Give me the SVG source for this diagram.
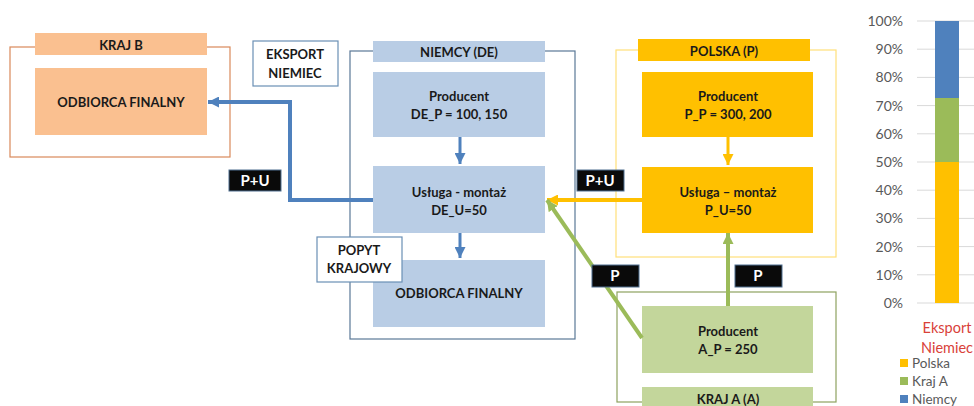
<svg xmlns="http://www.w3.org/2000/svg" width="974" height="406" viewBox="0 0 974 406">
  <style>
    text { font-family: Lato, "Liberation Sans", Arial, sans-serif; }
    .t { font-size: 13px; font-weight: bold; fill: #1a1a1a; text-anchor: middle; }
    .tag { font-size: 15px; font-weight: bold; fill: #ffffff; text-anchor: middle; }
    .tagbox { fill: #0a0a0a; stroke: #4f6f8f; stroke-width: 1; }
    .note { fill: #ffffff; stroke: #6a8fb5; stroke-width: 1.2; }
    .blue { fill: #b9cde5; }
    .orange { fill: #fac090; }
    .yellow { fill: #ffc000; }
    .green { fill: #c3d69b; }
    .ax { font-size: 14px; fill: #595959; text-anchor: end; }
    .leg { font-size: 13.5px; fill: #595959; }
    .grid { stroke: #d9d9d9; stroke-width: 1; }
  </style>
  <defs>
    <marker id="ah-blue" viewBox="0 0 10 10" refX="10" refY="5" markerWidth="11" markerHeight="11" markerUnits="userSpaceOnUse" orient="auto">
      <path d="M0,0 L10,5 L0,10 z" fill="#4f81bd"/>
    </marker>
    <marker id="ah-yellow" viewBox="0 0 10 10" refX="10" refY="5" markerWidth="11" markerHeight="11" markerUnits="userSpaceOnUse" orient="auto">
      <path d="M0,0 L10,5 L0,10 z" fill="#ffc000"/>
    </marker>
    <marker id="ah-green" viewBox="0 0 10 10" refX="10" refY="5" markerWidth="11" markerHeight="11" markerUnits="userSpaceOnUse" orient="auto">
      <path d="M0,0 L10,5 L0,10 z" fill="#9bbb59"/>
    </marker>
  </defs>

  <!-- Country B -->
  <g id="kraj-b">
    <rect x="10" y="47" width="220" height="110" fill="#ffffff" stroke="#d9895a" stroke-width="1.2"/>
    <rect class="orange" x="35" y="33" width="172" height="22"/>
    <text class="t" x="121" y="50">KRAJ B</text>
  </g>
  <g id="odbiorca-b">
    <rect class="orange" x="35" y="68" width="172" height="67"/>
    <text class="t" x="121" y="107">ODBIORCA FINALNY</text>
  </g>

  <!-- Germany -->
  <g id="niemcy">
    <rect x="350" y="51" width="225" height="288" fill="#ffffff" stroke="#5a7897" stroke-width="1.2"/>
    <rect class="blue" x="373" y="41" width="172" height="21"/>
    <text class="t" x="459" y="57">NIEMCY (DE)</text>
  </g>
  <g id="de-producent">
    <rect class="blue" x="373" y="72" width="172" height="65"/>
    <text class="t" x="459" y="101">Producent</text>
    <text class="t" x="459" y="119">DE_P = 100, 150</text>
  </g>
  <g id="de-usluga">
    <rect class="blue" x="373" y="166" width="172" height="67"/>
    <text class="t" x="459" y="197">Usługa - montaż</text>
    <text class="t" x="459" y="215">DE_U=50</text>
  </g>
  <g id="de-odbiorca">
    <rect class="blue" x="373" y="260" width="172" height="67"/>
    <text class="t" x="459" y="298">ODBIORCA FINALNY</text>
  </g>

  <!-- Poland -->
  <g id="polska">
    <rect x="616" y="50" width="220" height="207" fill="#ffffff" stroke="#ffe07a" stroke-width="1.2"/>
    <rect class="yellow" x="638" y="39" width="172" height="22"/>
    <text class="t" x="724" y="56">POLSKA (P)</text>
  </g>
  <g id="p-producent">
    <rect class="yellow" x="642" y="72" width="171" height="65"/>
    <text class="t" x="728" y="101">Producent</text>
    <text class="t" x="728" y="119">P_P = 300, 200</text>
  </g>
  <g id="p-usluga">
    <rect class="yellow" x="642" y="167" width="171" height="66"/>
    <text class="t" x="728" y="197">Usługa – montaż</text>
    <text class="t" x="728" y="215">P_U=50</text>
  </g>

  <!-- Country A -->
  <g id="kraj-a">
    <rect x="617" y="292" width="219" height="110" fill="#ffffff" stroke="#8ea25f" stroke-width="1.2"/>
    <rect class="green" x="642" y="387" width="171" height="22"/>
    <text class="t" x="728" y="404">KRAJ A (A)</text>
  </g>
  <g id="a-producent">
    <rect class="green" x="642" y="306" width="171" height="67"/>
    <text class="t" x="728" y="336">Producent</text>
    <text class="t" x="728" y="354">A_P = 250</text>
  </g>

  <!-- Connectors -->
  <g id="connectors" fill="none">
    <path d="M373,200 H290 V102 H208" stroke="#4f81bd" stroke-width="4" marker-end="url(#ah-blue)"/>
    <path d="M460,137 V164" stroke="#4f81bd" stroke-width="3" marker-end="url(#ah-blue)"/>
    <path d="M460,233 V258" stroke="#4f81bd" stroke-width="3" marker-end="url(#ah-blue)"/>
    <path d="M728,137 V165" stroke="#ffc000" stroke-width="3" marker-end="url(#ah-yellow)"/>
    <path d="M642,200 H547" stroke="#ffc000" stroke-width="4" marker-end="url(#ah-yellow)"/>
    <path d="M642,338 L547,200" stroke="#9bbb59" stroke-width="4" marker-end="url(#ah-green)"/>
    <path d="M728,306 V233" stroke="#9bbb59" stroke-width="4" marker-end="url(#ah-green)"/>
  </g>

  <!-- Flow tags -->
  <g id="tag-pu-left">
    <rect class="tagbox" x="229" y="170" width="52" height="21"/>
    <text class="tag" x="255" y="186">P+U</text>
  </g>
  <g id="tag-pu-right">
    <rect class="tagbox" x="577" y="170" width="47" height="21"/>
    <text class="tag" x="600" y="186">P+U</text>
  </g>
  <g id="tag-p-left">
    <rect class="tagbox" x="592" y="265" width="47" height="22"/>
    <text class="tag" x="615" y="281">P</text>
  </g>
  <g id="tag-p-right">
    <rect class="tagbox" x="735" y="265" width="47" height="22"/>
    <text class="tag" x="758" y="281">P</text>
  </g>

  <!-- Notes -->
  <g id="eksport-niemiec">
    <rect class="note" x="253" y="41" width="85" height="45"/>
    <text class="t" x="295" y="59">EKSPORT</text>
    <text class="t" x="295" y="78">NIEMIEC</text>
  </g>
  <g id="popyt-krajowy">
    <rect class="note" x="317" y="237" width="85" height="45"/>
    <text class="t" x="359" y="255">POPYT</text>
    <text class="t" x="359" y="273">KRAJOWY</text>
  </g>

  <!-- Stacked 100% bar chart -->
  <g id="chart">
    <g>
      <line class="grid" x1="917" y1="21" x2="974" y2="21"/>
      <line class="grid" x1="917" y1="49.2" x2="974" y2="49.2"/>
      <line class="grid" x1="917" y1="77.4" x2="974" y2="77.4"/>
      <line class="grid" x1="917" y1="105.6" x2="974" y2="105.6"/>
      <line class="grid" x1="917" y1="133.8" x2="974" y2="133.8"/>
      <line class="grid" x1="917" y1="162" x2="974" y2="162"/>
      <line class="grid" x1="917" y1="190.2" x2="974" y2="190.2"/>
      <line class="grid" x1="917" y1="218.4" x2="974" y2="218.4"/>
      <line class="grid" x1="917" y1="246.6" x2="974" y2="246.6"/>
      <line class="grid" x1="917" y1="274.8" x2="974" y2="274.8"/>
      <line class="grid" x1="917" y1="303" x2="974" y2="303"/>
    </g>
    <g>
      <text class="ax" x="903" y="26">100%</text>
      <text class="ax" x="903" y="54.2">90%</text>
      <text class="ax" x="903" y="82.4">80%</text>
      <text class="ax" x="903" y="110.6">70%</text>
      <text class="ax" x="903" y="138.8">60%</text>
      <text class="ax" x="903" y="167">50%</text>
      <text class="ax" x="903" y="195.2">40%</text>
      <text class="ax" x="903" y="223.4">30%</text>
      <text class="ax" x="903" y="251.6">20%</text>
      <text class="ax" x="903" y="279.8">10%</text>
      <text class="ax" x="903" y="308">0%</text>
    </g>
    <rect x="935" y="162" width="24" height="141" fill="#ffc000"/>
    <rect x="935" y="98" width="24" height="64" fill="#9bbb59"/>
    <rect x="935" y="21" width="24" height="77" fill="#4f81bd"/>
    <text x="947" y="333" font-size="14.5" fill="#d9413a" text-anchor="middle">Eksport</text>
    <text x="947" y="353" font-size="14.5" fill="#d9413a" text-anchor="middle">Niemiec</text>
    <rect x="900" y="359" width="8" height="8" fill="#ffc000"/>
    <text class="leg" x="912" y="368">Polska</text>
    <rect x="900" y="377" width="8" height="8" fill="#9bbb59"/>
    <text class="leg" x="912" y="386">Kraj A</text>
    <rect x="900" y="395" width="8" height="8" fill="#4f81bd"/>
    <text class="leg" x="912" y="404">Niemcy</text>
  </g>
</svg>
